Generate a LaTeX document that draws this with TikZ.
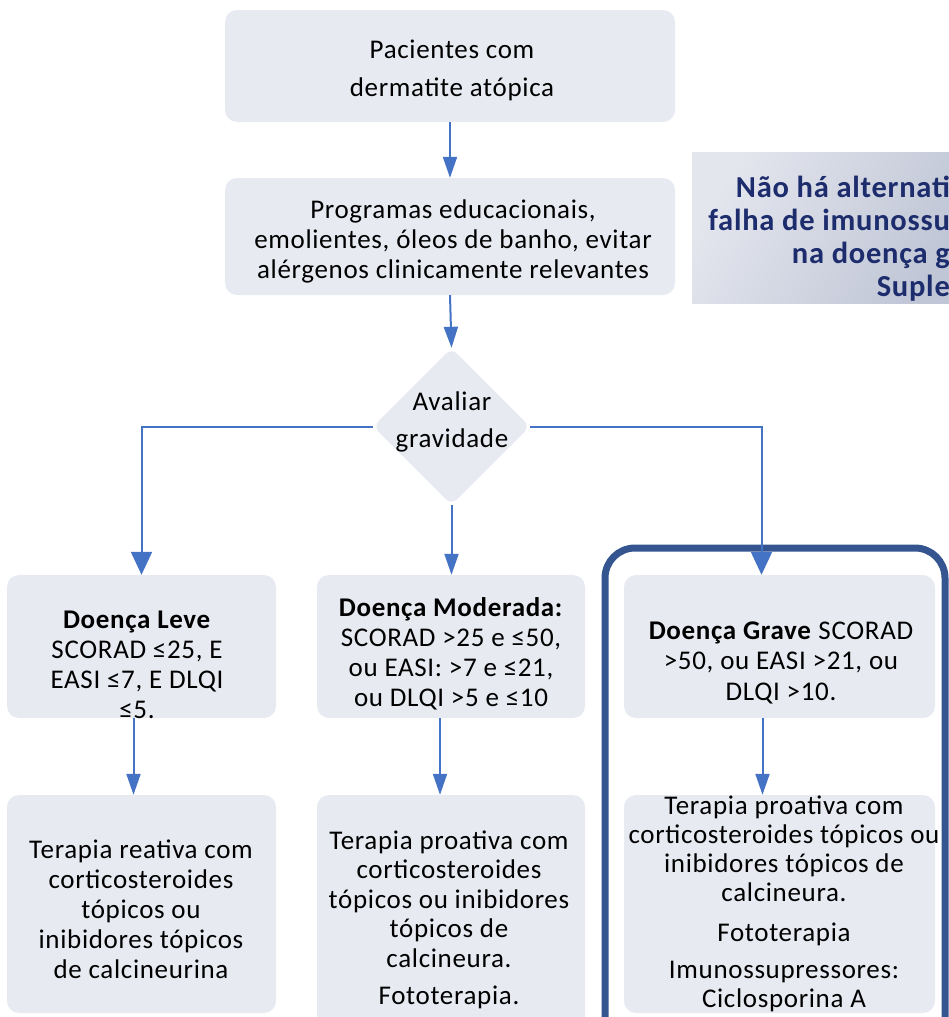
\documentclass[tikz,border=0pt]{standalone}
\usepackage{fontspec}
\setmainfont{Carlito}[LetterSpace=2.5]
\usetikzlibrary{arrows.meta,shapes.geometric,calc}

\definecolor{boxfill}{HTML}{E8EAF2}
\definecolor{arrowblue}{HTML}{4472C4}
\definecolor{frameblue}{HTML}{34558F}
\definecolor{navytext}{HTML}{1C2C6C}
\definecolor{panelL}{HTML}{E4E6EE}
\definecolor{panelD}{HTML}{C0C6D6}

\tikzset{
  box/.style={rectangle, rounded corners=12pt, fill=boxfill, draw=none, inner sep=0pt},
  decision/.style={diamond, aspect=1, rounded corners=8pt, fill=boxfill, draw=none, inner sep=0pt,
    minimum width=157pt, minimum height=157pt},
  txt/.style={align=center, inner sep=0pt, font=\fontsize{27}{30}\selectfont},
  arr/.style={draw=arrowblue, line width=2pt, -{Triangle[width=14pt,length=21pt]}},
  bigarr/.style={draw=arrowblue, line width=2pt, -{Triangle[width=21pt,length=23pt]}},
  frame/.style={draw=frameblue, line width=7pt, rounded corners=30pt},
}

\begin{document}
\begin{tikzpicture}[x=1pt,y=-1pt]
\useasboundingbox (0,0) rectangle (948,1017);

% side panel (partly outside the page)
\shade[left color=panelL, right color=panelD, shading angle=60] (692,152) rectangle (960,303);
\node[anchor=east, align=right, inner sep=0pt, text=navytext,
      font=\fontsize{30.5}{33}\selectfont\bfseries] (panel) at (950,238.5)
  {Não há alternati\\falha de imunossu\\na doença g\\Suple};

% thick frame around the severe branch
\draw[frame] (605,1060) -- (605,548) -- (945,548) -- (945,1060);

% top of the flow
\node[box, minimum width=450pt, minimum height=112pt] (pac) at (450,66) {};
\node[txt, font=\fontsize{27}{38}\selectfont] (pacT) at (452,70) {Pacientes com\\dermatite atópica};

\node[box, minimum width=450pt, minimum height=117pt] (prog) at (450,236.5) {};
\node[txt] (progT) at (453,241.5) {Programas educacionais,\\emolientes, óleos de banho, evitar\\alérgenos clinicamente relevantes};

\node[decision] (aval) at (451.5,426.5) {};
\node[txt, font=\fontsize{27}{37}\selectfont] (avalT) at (452,421.5) {Avaliar\\gravidade};

% severity boxes
\node[box, minimum width=269pt, minimum height=143pt] (leve) at (141.5,646.5) {};
\node[box, minimum width=268pt, minimum height=143pt] (mod) at (451,646.5) {};
\node[box, minimum width=311pt, minimum height=143pt] (grave) at (779.5,646.5) {};

\node[txt] (leveT) at (137,665) {\textbf{Doença Leve}\\SCORAD ≤25,  E\\EASI ≤7,  E DLQI\\≤5.};
\node[txt] (modT) at (451,654) {\textbf{Doença Moderada:}\\SCORAD >25  e ≤50,\\ou EASI: >7 e ≤21,\\ou DLQI >5 e ≤10};
\node[txt, font=\fontsize{27}{30.5}\selectfont] (graveT) at (781,662.5) {\textbf{Doença Grave} SCORAD\\>50, ou EASI >21, ou\\DLQI >10.};

% therapy boxes
\node[box, minimum width=269pt, minimum height=218pt] (terL) at (141.5,904) {};
\node[box, minimum width=268pt, minimum height=240pt] (terM) at (451,915) {};
\node[box, minimum width=311pt, minimum height=218pt] (terG) at (779.5,904) {};

\node[txt] (terLT) at (141,909) {Terapia reativa com\\corticosteroides\\tópicos ou\\inibidores tópicos\\de calcineurina};
\node[txt, font=\fontsize{27}{29.5}\selectfont] (terMT) at (449,920)
  {Terapia proativa com\\corticosteroides\\tópicos ou inibidores\\tópicos de\\calcineura.\\[8pt]Fototerapia.};
\node[txt, font=\fontsize{27}{29}\selectfont] (terGT) at (784,903.5)
  {Terapia proativa com\\corticosteroides tópicos ou\\inibidores tópicos de\\calcineura.\\[11pt]Fototerapia\\[8pt]Imunossupressores:\\Ciclosporina A};

% connectors
\draw[arr] (pac.south) -- (prog.north);
\draw[arr] (prog.south) -- (aval.north);
\draw[bigarr] (aval.west) -| (leve.north);
\draw[arr] (aval.south) -- (aval.south |- mod.north);
\draw[bigarr] (aval.east) -| ([xshift=-18pt]grave.north);
\draw[arr] ([xshift=-8pt]leve.south) -- ([xshift=-8pt]terL.north);
\draw[arr] ([xshift=-11pt]mod.south) -- ([xshift=-11pt]terM.north);
\draw[arr] ([xshift=-17pt]grave.south) -- ([xshift=-17pt]terG.north);
\end{tikzpicture}
\end{document}
